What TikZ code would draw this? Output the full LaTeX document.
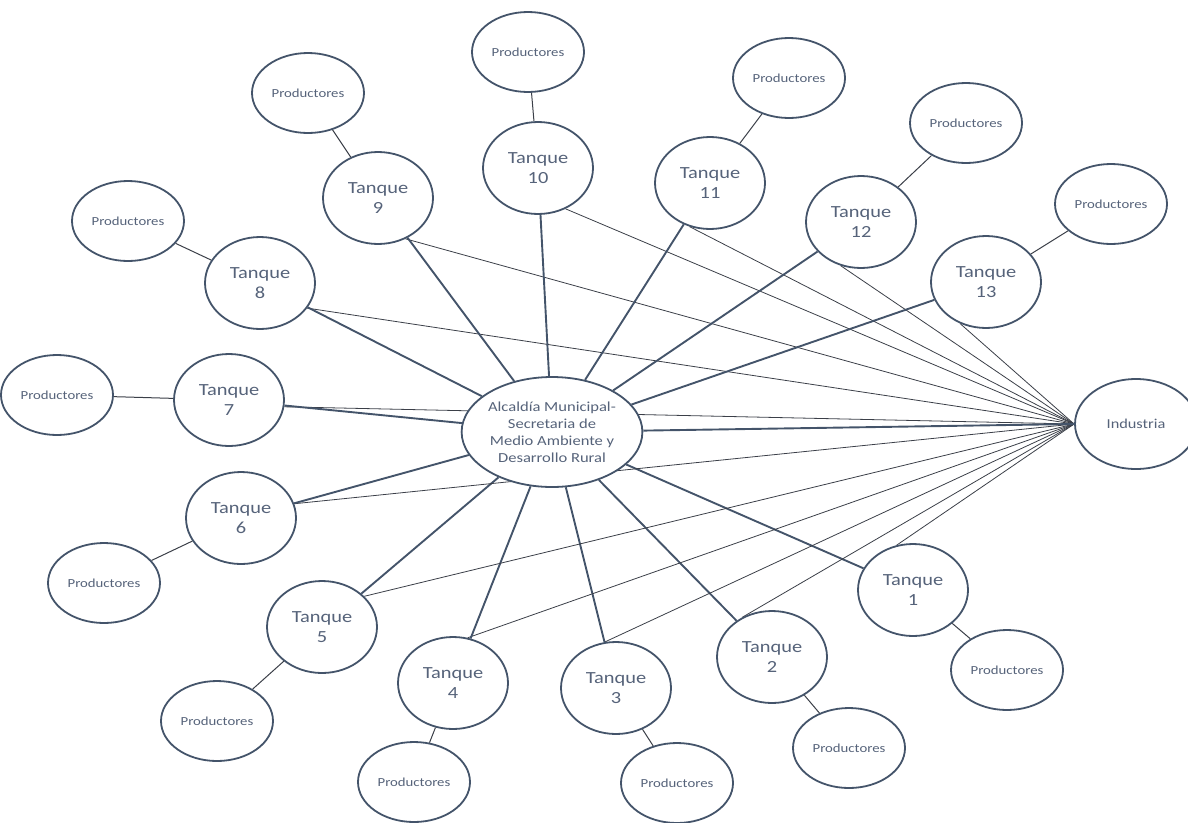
\documentclass[tikz,border=0pt]{standalone}
\usepackage{fontspec}
\setmainfont{Carlito}[FakeStretch=1.2]
\usetikzlibrary{shapes.geometric,backgrounds}
\definecolor{bd}{HTML}{44546A}
\definecolor{tx}{HTML}{56637A}
\definecolor{ln}{HTML}{3B3F48}
\tikzset{
  el/.style={ellipse,draw=bd,line width=1.8pt,fill=white,inner sep=0pt,text=tx,align=center},
  tank/.style={el,minimum width=110pt,minimum height=92pt,font=\fontsize{17}{20}\selectfont},
  prod/.style={el,minimum width=112pt,minimum height=80pt,font=\fontsize{12.3}{14}\selectfont},
  hub/.style={el,minimum width=164pt,minimum height=110pt,font=\fontsize{13.8}{17}\selectfont},
  ind/.style={el,minimum width=122pt,minimum height=90pt,font=\fontsize{13.6}{16}\selectfont},
  thickln/.style={draw=bd,line width=1.9pt},
  thinln/.style={draw=ln,line width=0.8pt},
  plink/.style={draw=ln,line width=1pt},
}
\begin{document}
\begin{tikzpicture}[x=1pt,y=-1pt]
\useasboundingbox (0,0) rectangle (1188,822);
\node[hub] (c) at (552,432) {Alcaldía Municipal-\\Secretaria de\\Medio Ambiente y\\Desarrollo Rural};
\node[ind] (ind) at (1136,424) {Industria};
\node[tank] (t1) at (913,590) {Tanque\\1};
\node[tank] (t2) at (772,657) {Tanque\\2};
\node[tank] (t3) at (616,688) {Tanque\\3};
\node[tank] (t4) at (453,683) {Tanque\\4};
\node[tank] (t5) at (322,627) {Tanque\\5};
\node[tank] (t6) at (241,518) {Tanque\\6};
\node[tank] (t7) at (229,400) {Tanque\\7};
\node[tank] (t8) at (260,283) {Tanque\\8};
\node[tank] (t9) at (378,198) {Tanque\\9};
\node[tank] (t10) at (538,168) {Tanque\\10};
\node[tank] (t11) at (710,183) {Tanque\\11};
\node[tank] (t12) at (861,222) {Tanque\\12};
\node[tank] (t13) at (986,282) {Tanque\\13};
\node[prod] (p1) at (1007,670) {Productores};
\node[prod] (p2) at (849,748) {Productores};
\node[prod] (p3) at (677,783) {Productores};
\node[prod] (p4) at (414,782) {Productores};
\node[prod] (p5) at (217,721) {Productores};
\node[prod] (p6) at (104,583) {Productores};
\node[prod] (p7) at (57,395) {Productores};
\node[prod] (p8) at (128,221) {Productores};
\node[prod] (p9) at (308,93) {Productores};
\node[prod] (p10) at (528,52) {Productores};
\node[prod] (p11) at (789,78) {Productores};
\node[prod] (p12) at (966,123) {Productores};
\node[prod] (p13) at (1111,204) {Productores};
\begin{scope}[on background layer]
\foreach \i/\a in {1/110,2/127,3/104,4/72,5/36,6/15,7/353,8/332,9/304,10/304,11/245,12/245,13/238} {
  \draw[thinln] (t\i.\a) -- (ind.west);
  \draw[thickln] (c) -- (t\i);
  \draw[plink] (p\i) -- (t\i);
}
\draw[thickln] (c) -- (ind.west);
\end{scope}
\end{tikzpicture}
\end{document}
